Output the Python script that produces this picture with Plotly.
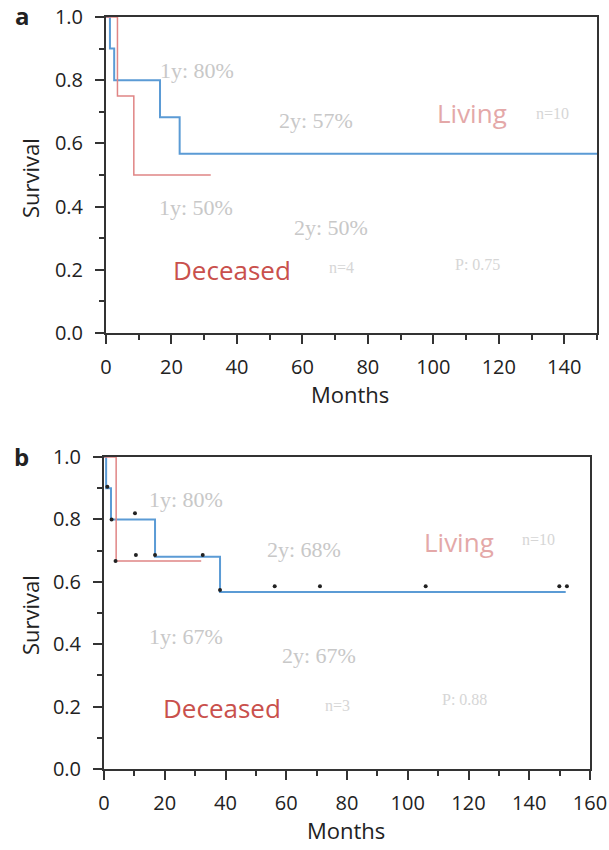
import plotly.graph_objects as go

# ---------------- data ----------------
# panel a
a_living_t = [0, 1.2, 2.5, 16.5, 22.5, 150]
a_living_s = [1.0, 0.9, 0.8, 0.683, 0.567, 0.567]
a_dec_t = [0, 3.5, 8.5, 32]
a_dec_s = [1.0, 0.75, 0.5, 0.5]

# panel b
b_living_t = [0, 0.7, 2.3, 16.8, 38.2, 152]
b_living_s = [1.0, 0.9, 0.8, 0.68, 0.567, 0.567]
b_dec_t = [0, 4.0, 32]
b_dec_s = [1.0, 0.667, 0.667]
b_cens_t = [1.1, 2.5, 3.8, 10.2, 10.5, 16.8, 32.5, 38.2, 56.2, 71.1, 105.9, 149.9, 152.4]
b_cens_s = [0.905, 0.8, 0.667, 0.82, 0.686, 0.686, 0.686, 0.574, 0.586, 0.586, 0.586, 0.586, 0.586]

x_ticks_a = [0, 20, 40, 60, 80, 100, 120, 140]
x_ticks_b = [0, 20, 40, 60, 80, 100, 120, 140, 160]
y_ticks = [0.0, 0.2, 0.4, 0.6, 0.8, 1.0]
y_ticklabels = ["0.0", "0.2", "0.4", "0.6", "0.8", "1.0"]

# text annotations: (text, x, y, kind)
a_texts = [
    ("1y: 80%", 27.7, 0.832, "pct"),
    ("2y: 57%", 64.2, 0.674, "pct"),
    ("1y: 50%", 27.5, 0.396, "pct"),
    ("2y: 50%", 68.7, 0.333, "pct"),
    ("Living", 111.8, 0.695, "living"),
    ("n=10", 136.4, 0.695, "small"),
    ("Deceased", 38.6, 0.199, "dec"),
    ("n=4", 72.0, 0.207, "small"),
    ("P: 0.75", 113.6, 0.217, "small"),
]
b_texts = [
    ("1y: 80%", 26.9, 0.865, "pct"),
    ("2y: 68%", 65.8, 0.704, "pct"),
    ("1y: 67%", 26.9, 0.425, "pct"),
    ("2y: 67%", 70.7, 0.365, "pct"),
    ("Living", 116.8, 0.728, "living"),
    ("n=10", 143.0, 0.735, "small"),
    ("Deceased", 38.7, 0.194, "dec"),
    ("n=3", 76.9, 0.205, "small"),
    ("P: 0.88", 118.8, 0.222, "small"),
]

BLUE = "#5b9bd5"
RED = "#e08585"
SANS = "Open Sans"
W, H = 609, 850


def px_x(p):
    return p / W


def px_y(p):
    return 1 - p / H


fig = go.Figure()
fig.add_trace(go.Scatter(x=a_living_t, y=a_living_s, mode="lines", line=dict(color=BLUE, width=2, shape="hv"),
                         xaxis="x", yaxis="y", showlegend=False))
fig.add_trace(go.Scatter(x=a_dec_t, y=a_dec_s, mode="lines", line=dict(color=RED, width=1.5, shape="hv"),
                         xaxis="x", yaxis="y", showlegend=False))
fig.add_trace(go.Scatter(x=b_living_t, y=b_living_s, mode="lines", line=dict(color=BLUE, width=2, shape="hv"),
                         xaxis="x2", yaxis="y2", showlegend=False))
fig.add_trace(go.Scatter(x=b_dec_t, y=b_dec_s, mode="lines", line=dict(color=RED, width=1.5, shape="hv"),
                         xaxis="x2", yaxis="y2", showlegend=False))
fig.add_trace(go.Scatter(x=b_cens_t, y=b_cens_s, mode="markers", marker=dict(color="#222", size=4),
                         xaxis="x2", yaxis="y2", showlegend=False))

styles = {
    "pct": dict(family="Liberation Serif", size=22, color="#c8c8c8"),
    "living": dict(family=SANS, size=26, color="#e4a8a8"),
    "dec": dict(family=SANS, size=26, color="#c9504c"),
    "small": dict(family="Liberation Serif", size=16, color="#d6d6d6"),
}
ann = []
for txt, x, y, k in a_texts:
    ann.append(dict(text=txt, x=x, y=y, xref="x", yref="y", showarrow=False, font=styles[k]))
for txt, x, y, k in b_texts:
    ann.append(dict(text=txt, x=x, y=y, xref="x2", yref="y2", showarrow=False, font=styles[k]))

title_font = dict(family=SANS, size=22, color="#222")
letter_font = dict(family=SANS, size=24, color="#222")


def paper_text(txt, xp, yp, font, angle=0):
    return dict(text=txt, x=px_x(xp), y=px_y(yp), xref="paper", yref="paper", showarrow=False,
                xanchor="center", yanchor="middle", textangle=angle, font=font)


ann.append(paper_text("<b>a</b>", 22, 16, letter_font))
ann.append(paper_text("<b>b</b>", 21, 457, letter_font))
ann.append(paper_text("Survival", 30, 178, title_font, -90))
ann.append(paper_text("Survival", 30, 615, title_font, -90))
ann.append(paper_text("Months", 350, 394, title_font))
ann.append(paper_text("Months", 346, 830, title_font))

axis_common = dict(showline=True, mirror=True, linecolor="#333", linewidth=2, showgrid=False, zeroline=False,
                   ticks="outside", ticklen=9, tickwidth=1.5, tickcolor="#333", automargin=False,
                   ticklabeloverflow="allow",
                   tickfont=dict(family=SANS, size=20, color="#222"))
minor = dict(ticks="outside", ticklen=5, tickcolor="#333", tickwidth=1.5)

fig.update_layout(
    width=W, height=H, margin=dict(l=0, r=0, t=0, b=0),
    paper_bgcolor="white", plot_bgcolor="white",
    xaxis=dict(domain=[px_x(106), px_x(597)], range=[0, 150], anchor="y", tickvals=x_ticks_a,
               minor=dict(dtick=10, **minor), ticklabelstandoff=6, **axis_common),
    yaxis=dict(domain=[px_y(333), px_y(17)], range=[0, 1], anchor="x", tickvals=y_ticks,
               ticktext=y_ticklabels, minor=dict(dtick=0.1, **minor), ticklabelstandoff=8, **axis_common),
    xaxis2=dict(domain=[px_x(104), px_x(590)], range=[0, 160], anchor="y2", tickvals=x_ticks_b,
                minor=dict(dtick=10, **minor), ticklabelstandoff=6, **axis_common),
    yaxis2=dict(domain=[px_y(769), px_y(457)], range=[0, 1], anchor="x2", tickvals=y_ticks,
                ticktext=y_ticklabels, minor=dict(dtick=0.1, **minor), ticklabelstandoff=8, **axis_common),
    annotations=ann,
)

# remove the default 8px page margin so the figure fills the 609x850 window exactly
fig.write_html("out.html", config={"displayModeBar": False},
               post_script="document.body.style.margin='0px';")
